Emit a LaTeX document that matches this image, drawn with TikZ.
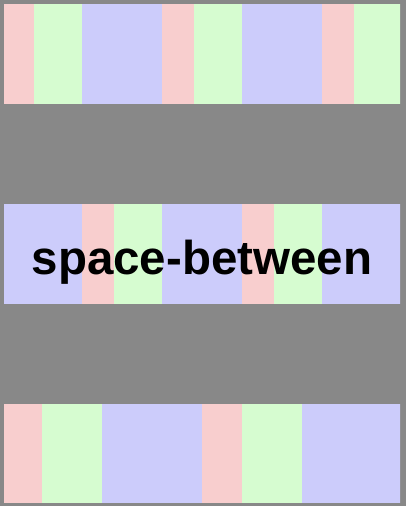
\documentclass[tikz,border=0pt]{standalone}
\usepackage{fontspec}
\setmainfont{Liberation Sans}
\definecolor{cellred}{RGB}{248,206,206}
\definecolor{cellgreen}{RGB}{214,252,208}
\definecolor{cellblue}{RGB}{204,204,251}
\definecolor{framegray}{RGB}{136,136,136}
\begin{document}
\begin{tikzpicture}[x=1pt,y=-1pt]
\useasboundingbox (0,0) rectangle (406,506);
\fill[framegray] (0,0) rectangle (406,506);
% top row
\begin{scope}
\clip (4,4) rectangle (400,104);
\foreach \o in {2,162,322}{
  \fill[cellred] (\o,4) rectangle ++(32,100);
  \fill[cellgreen] (\o+32,4) rectangle ++(48,100);
  \fill[cellblue] (\o+80,4) rectangle ++(80,100);
}
\end{scope}
% middle row
\begin{scope}
\clip (4,204) rectangle (400,304);
\foreach \o in {2,162,322}{
  \fill[cellblue] (\o,204) rectangle ++(80,100);
  \fill[cellred] (\o+80,204) rectangle ++(32,100);
  \fill[cellgreen] (\o+112,204) rectangle ++(48,100);
}
\end{scope}
% bottom row
\begin{scope}
\clip (4,404) rectangle (400,502);
\foreach \o in {2,202}{
  \fill[cellred] (\o,404) rectangle ++(40,100);
  \fill[cellgreen] (\o+40,404) rectangle ++(60,100);
  \fill[cellblue] (\o+100,404) rectangle ++(100,100);
}
\end{scope}
\node[anchor=base,inner sep=0pt,font=\fontsize{47.5pt}{57pt}\selectfont\bfseries] (label) at (202,274) {space-between};
\end{tikzpicture}
\end{document}
